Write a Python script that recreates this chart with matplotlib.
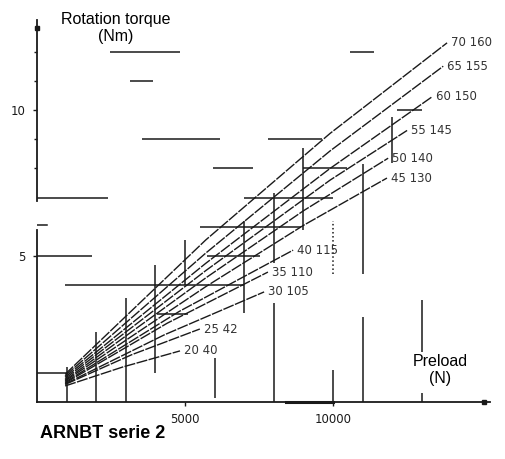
import matplotlib.pyplot as plt

# === DATA (preload N, rotation torque Nm) ===
labels = ["70 160", "65 155", "60 150", "55 145", "50 140", "45 130",
          "40 115", "35 110", "30 105", "25 42", "20 40"]
line_x = [
    [950, 5700, 9900, 13850],
    [950, 5700, 9900, 13720],
    [950, 5700, 9900, 13340],
    [950, 5700, 9900, 12500],
    [950, 5700, 9000, 11860],
    [950, 5700, 9000, 11820],
    [950, 4800, 8650],
    [950, 4400, 7800],
    [950, 4300, 7670],
    [950, 3200, 5500],
    [950, 2900, 4830],
]
line_y = [
    [0.95, 5.55, 9.2, 12.3],
    [0.9, 5.1, 8.6, 11.5],
    [0.85, 4.75, 8.0, 10.45],
    [0.8, 4.5, 7.6, 9.3],
    [0.75, 4.25, 6.55, 8.35],
    [0.72, 3.95, 6.05, 7.67],
    [0.68, 3.1, 5.2],
    [0.65, 2.7, 4.45],
    [0.62, 2.3, 3.77],
    [0.6, 1.62, 2.5],
    [0.55, 1.2, 1.75],
]

# partial reference lines left in the drawing
vert_x = [1000, 2000, 3000, 4000, 5000, 6000, 7000, 8000, 8000, 9000,
          10000, 11000, 11000, 12000, 13000, 13000]
vert_y0 = [0, 0, 0, 1.0, 4.0, 0.15, 3.05, 0, 4.75, 5.9, 0, 0, 4.4, 8.2, 1.7, 0]
vert_y1 = [1.2, 2.4, 3.55, 4.7, 5.55, 1.5, 6.2, 3.4, 7.15, 8.7, 1.1, 2.9, 8.15, 9.75, 3.5, 0.3]
dot_x, dot_y0, dot_y1 = [10000], [4.4], [6.2]

horz_y = [12, 12, 11, 10, 9, 9, 8, 8, 7, 7, 6, 5, 5, 4, 3, 1]
horz_x0 = [2470, 10570, 3140, 12160, 3550, 7800, 5950, 8990, 0, 7000, 5500, 0, 5740, 950, 4050, 0]
horz_x1 = [4830, 11380, 3920, 13000, 6180, 9630, 7300, 10470, 2400, 10000, 8900, 1860, 7530, 7000, 5100, 1000]

# === FIGURE ===
fig = plt.figure(figsize=(5.06, 4.59), dpi=100)
ax = fig.add_axes([37 / 506, 57 / 459, 453 / 506, 382.5 / 459])
ax.set_xlim(0, 15300)
ax.set_ylim(0, 13.1)

ink = "#1a1a1a"

for xs, ys, lab in zip(line_x, line_y, labels):
    ax.plot(xs, ys, color=ink, lw=1.0, ls=(0, (8, 1)))
    ax.annotate(lab, (xs[-1], ys[-1]), xytext=(3, 0), textcoords="offset points",
                ha="left", va="center", fontsize=8.5, color="#333333")

ax.vlines(vert_x, vert_y0, vert_y1, color=ink, lw=1.1)
ax.vlines(dot_x, dot_y0, dot_y1, color=ink, lw=1.1, ls=":")
ax.hlines(horz_y, horz_x0, horz_x1, color=ink, lw=1.1)

# broken y axis and end marks
ax.plot([0, 0], [0, 5.9], color=ink, lw=1.3, clip_on=False)
ax.plot([0, 0], [6.9, 13.1], color=ink, lw=1.3, clip_on=False)
ax.plot([0, 350], [6.05, 6.05], color=ink, lw=1.1)
ax.plot([0], [12.8], marker="s", ms=3.5, color=ink, clip_on=False)
ax.plot([15100], [0], marker="s", ms=3.5, color=ink, clip_on=False)
ax.plot([8400, 10000], [0, 0], color=ink, lw=2.2, clip_on=False)

for s in ["top", "right", "left"]:
    ax.spines[s].set_visible(False)
ax.spines["bottom"].set_color(ink)
ax.spines["bottom"].set_linewidth(1.3)

ax.set_xticks([5000, 10000])
ax.set_xticklabels(["5000", "10000"])
ax.set_yticks([5, 10])
ax.set_yticklabels(["5", "10"])
ax.set_yticks([8, 9, 11, 12], minor=True)
ax.tick_params(axis="both", labelsize=8.5, colors=ink, length=3, width=1, pad=5)
ax.tick_params(axis="y", which="minor", length=2, width=1, colors=ink)

fig.text(116 / 506, 1 - 12 / 459, "Rotation torque\n(Nm)", ha="center", va="top",
         fontsize=11.5, family="Liberation Sans", linespacing=1.15)
fig.text(440 / 506, 1 - 354 / 459, "Preload\n(N)", ha="center", va="top",
         fontsize=11.5, family="Liberation Sans", linespacing=1.15)
fig.text(40 / 506, 1 - 433 / 459, "ARNBT serie 2", ha="left", va="center",
         fontsize=13, fontweight="bold", family="Liberation Sans")

fig.savefig("out.png", dpi=100)
